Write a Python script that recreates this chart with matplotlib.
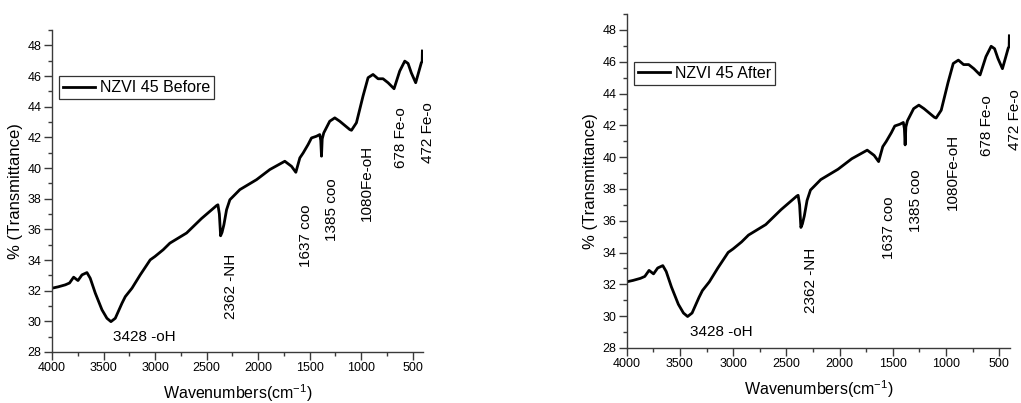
import matplotlib
matplotlib.use("Agg")
import matplotlib.pyplot as plt
from matplotlib.ticker import MultipleLocator

plt.rcParams['font.family'] = ['Liberation Sans', 'DejaVu Sans']
plt.rcParams['mathtext.fontset'] = 'custom'
plt.rcParams['mathtext.rm'] = 'Liberation Sans'

# Spectrum (wavenumber, %T)
wavenumber = [4000, 3940, 3871, 3830, 3790, 3748, 3709, 3661, 3629, 3580, 3515,
              3467, 3428, 3386, 3321, 3289, 3224, 3144, 3047, 3001, 2921, 2856,
              2694, 2550, 2403, 2390, 2376, 2364, 2350, 2332, 2306, 2274, 2177,
              2015, 1886, 1741, 1676, 1634, 1595, 1563, 1515, 1482, 1434, 1402,
              1392, 1385, 1378, 1363, 1305, 1256, 1208, 1111, 1094, 1046, 982,
              933, 885, 836, 788, 739, 681, 626, 577, 545, 513, 471, 439, 416,
              408, 406]
before_T = [32.16, 32.25, 32.38, 32.50, 32.88, 32.66, 33.03, 33.18, 32.81, 31.84, 30.75,
            30.20, 29.98, 30.20, 31.18, 31.61, 32.16, 33.03, 34.01, 34.23, 34.67, 35.10,
            35.76, 36.70, 37.55, 37.60, 37.00, 35.58, 35.80, 36.30, 37.28, 37.93, 38.59,
            39.24, 39.90, 40.44, 40.11, 39.72, 40.66, 40.98, 41.53, 41.96, 42.07, 42.18,
            41.80, 40.77, 41.90, 42.29, 43.05, 43.27, 43.05, 42.51, 42.46, 42.95, 44.69,
            45.89, 46.10, 45.82, 45.82, 45.56, 45.17, 46.32, 46.97, 46.82, 46.20, 45.56,
            46.32, 46.87, 46.95, 47.63]
after_T = list(before_T)

peak_pos = [3108, 2267, 1537, 1285, 941, 617, 355]
peak_val = [28.98, 32.27, 35.58, 37.28, 39.05, 41.99, 42.33]
peak_text = ["3428 -oH", "2362 -NH", "1637 coo", "1385 coo", "1080Fe-oH", "678 Fe-o", "472 Fe-o"]
peak_rot = [0, 90, 90, 90, 90, 90, 90]

x_ticks = [4000, 3500, 3000, 2500, 2000, 1500, 1000, 500]
y_ticks = [28, 30, 32, 34, 36, 38, 40, 42, 44, 46, 48]

fig = plt.figure(figsize=(10.21, 4.03), dpi=100)
ax1 = fig.add_axes([52/1021, 1-352/403, 371/1021, 322/403])
ax2 = fig.add_axes([626.7/1021, 1-348/403, 383.3/1021, 334/403])

spine_c = '#3a3a3a'
for ax, yv, lab in [(ax1, before_T, 'NZVI 45 Before'), (ax2, after_T, 'NZVI 45 After')]:
    ax.plot(wavenumber, yv, color='black', lw=2.0, label=lab)
    ax.set_xlim(4000, 400)
    ax.set_ylim(28, 49)
    ax.set_xticks(x_ticks)
    ax.set_yticks(y_ticks)
    ax.xaxis.set_minor_locator(MultipleLocator(250))
    ax.yaxis.set_minor_locator(MultipleLocator(1))
    for s in ['top', 'right']:
        ax.spines[s].set_visible(False)
    for s in ['left', 'bottom']:
        ax.spines[s].set_color(spine_c)
        ax.spines[s].set_linewidth(1.0)
    ax.tick_params(which='major', direction='out', length=5.5, width=1, color=spine_c,
                   labelsize=9, pad=2)
    ax.tick_params(which='minor', direction='out', length=3, width=1, color=spine_c)
    ax.set_xlabel(r'Wavenumbers(cm$^{\mathregular{-1}}$)', fontsize=11.5, labelpad=6)
    ax.set_ylabel('% (Transmittance)', fontsize=12, labelpad=3)
    leg = ax.legend(loc='upper left', bbox_to_anchor=(0.02, 0.856), fontsize=11.5,
                    frameon=True, fancybox=False, borderpad=0.25, borderaxespad=0,
                    handletextpad=0.3, handlelength=2.0)
    leg.get_frame().set_edgecolor('black')
    leg.get_frame().set_linewidth(0.9)
    for px, pv, t, r in zip(peak_pos, peak_val, peak_text, peak_rot):
        ax.text(px, pv, t, rotation=r, ha='center', va='center', fontsize=11,
                clip_on=False)

fig.savefig('out.png', dpi=100)
